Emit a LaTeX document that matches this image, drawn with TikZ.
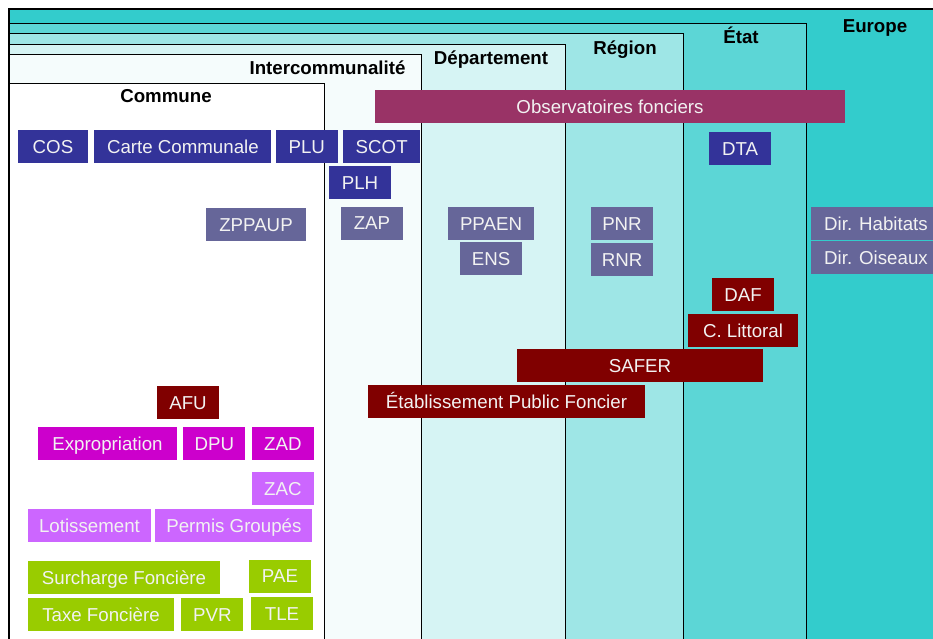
\documentclass[tikz,border=0pt]{standalone}
\usepackage{fontspec}
\setmainfont{Liberation Sans}
\usepackage{xcolor}
\usetikzlibrary{positioning}

\definecolor{europecol}{HTML}{33CCCC}
\definecolor{etatcol}{HTML}{5CD6D6}
\definecolor{regioncol}{HTML}{9EE6E6}
\definecolor{deptcol}{HTML}{D6F4F4}
\definecolor{intercol}{HTML}{F5FCFC}
\definecolor{obscol}{HTML}{993366}
\definecolor{navycol}{HTML}{333399}
\definecolor{slatecol}{HTML}{666699}
\definecolor{maroncol}{HTML}{800000}
\definecolor{magcol}{HTML}{CC00CC}
\definecolor{lilaccol}{HTML}{CC66FF}
\definecolor{limecol}{HTML}{99CC00}
\definecolor{txtcol}{HTML}{F2F2F2}

\begin{document}
\begin{tikzpicture}[
  x=1pt, y=-1pt,
  frame/.style={draw=black, line width=1pt, fill=#1},
  level/.style={font=\fontsize{18.7}{22}\selectfont\bfseries, anchor=base, inner sep=0pt},
  tool/.style={fill=#1, text=txtcol, font=\fontsize{18.7}{22}\selectfont, inner sep=0pt,
    minimum height=33pt, minimum width=62pt, text height=13.4pt, text depth=0pt}
]
\useasboundingbox (0,0) rectangle (933,638);

% nested levels
\begin{scope}
\clip (0,0) rectangle (933,638);
\draw[frame=europecol, line width=2pt] (9,9) rectangle (960,660);
\draw[frame=etatcol] (9,23) rectangle (806,660);
\draw[frame=regioncol] (9,33) rectangle (683,660);
\draw[frame=deptcol] (9,44) rectangle (565,660);
\draw[frame=intercol] (9,54) rectangle (421,660);
\draw[frame=white] (9,83) rectangle (324,660);
\end{scope}

\node[level] (europe) at (875,32) {Europe};
\node[level] (etat) at (741,43) {État};
\node[level] (region) at (625,54) {Région};
\node[level] (dept) at (491,64) {Département};
\node[level] (intercom) at (327.5,74) {Intercommunalité};
\node[level] (commune) at (166,102) {Commune};

% tools
\node[tool=obscol, minimum width=470pt] (obs) at (610,106.5) {Observatoires fonciers};

\node[tool=navycol, minimum width=70pt] (cos) at (53,146.5) {COS};
\node[tool=navycol, minimum width=177pt, right=6pt of cos] (carte) {Carte Communale};
\node[tool=navycol, right=4pt of carte] (plu) {PLU};
\node[tool=navycol, minimum width=77pt, right=5pt of plu] (scot) {SCOT};
\node[tool=navycol] (plh) at (360,182.5) {PLH};
\node[tool=navycol] (dta) at (740,148.5) {DTA};

\node[tool=slatecol, minimum width=100pt] (zppaup) at (256,224.5) {ZPPAUP};
\node[tool=slatecol] (zap) at (372,223) {ZAP};
\node[tool=slatecol, minimum width=86pt] (ppaen) at (491,223.5) {PPAEN};
\node[tool=slatecol, below=2pt of ppaen] (ens) {ENS};
\node[tool=slatecol] (pnr) at (622,223.5) {PNR};
\node[tool=slatecol, below=3pt of pnr] (rnr) {RNR};
\node[tool=slatecol, minimum width=130pt] (habitats) at (876,223.5) {Dir. Habitats};
\node[tool=slatecol, minimum width=130pt, below=1pt of habitats] (oiseaux) {Dir. Oiseaux};

\node[tool=maroncol] (daf) at (743,294.5) {DAF};
\node[tool=maroncol, minimum width=110pt, below=3pt of daf] (littoral) {C. Littoral};
\node[tool=maroncol, minimum width=246pt] (safer) at (640,365.5) {SAFER};
\node[tool=maroncol, minimum width=277pt] (epf) at (506.5,401.5) {Établissement Public Foncier};
\node[tool=maroncol] (afu) at (188,402.5) {AFU};

\node[tool=magcol, minimum width=139pt] (expro) at (107.5,443.5) {Expropriation};
\node[tool=magcol, right=6pt of expro] (dpu) {DPU};
\node[tool=magcol, right=6pt of dpu] (zad) {ZAD};

\node[tool=lilaccol, below=12pt of zad] (zac) {ZAC};
\node[tool=lilaccol, minimum width=123pt] (lotis) at (89.5,525.5) {Lotissement};
\node[tool=lilaccol, minimum width=157pt, right=4pt of lotis] (permis) {Permis Groupés};

\node[tool=limecol, minimum width=192pt] (surcharge) at (124,577.5) {Surcharge Foncière};
\node[tool=limecol] (pae) at (280,576) {PAE};
\node[tool=limecol, minimum width=146pt] (taxe) at (101,614.5) {Taxe Foncière};
\node[tool=limecol, right=7pt of taxe] (pvr) {PVR};
\node[tool=limecol] (tle) at (282,613.5) {TLE};
\end{tikzpicture}
\end{document}
